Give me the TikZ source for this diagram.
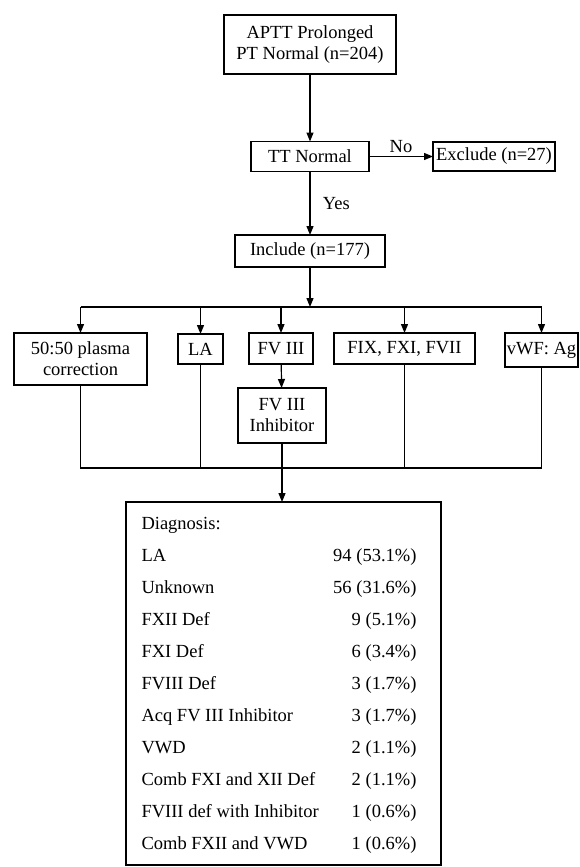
\documentclass[tikz,border=0pt]{standalone}
\usepackage{fontspec}
\setmainfont{Liberation Serif}
\usetikzlibrary{arrows.meta, positioning}

\begin{document}
\begin{tikzpicture}[% styles used in image code
          x = 1pt, y = -1pt,
          > = {Triangle[length=9pt, width=7pt]}, % defined in "arrows.meta
every node/.style = {font=\fontsize{18.5}{21}\selectfont},
 box/.style = {draw, line width=1.2pt, inner sep=0pt, outer sep=0pt,
               align=center},
line/.style = {line width=1.2pt}
                    ]
	\useasboundingbox (0,0) rectangle (580,867);
	% screening steps
	\node[box, minimum width=172pt, minimum height=59pt] (aptt) at (310,44.5) {APTT Prolonged\\PT Normal (n=204)};
	\node[box, minimum width=118pt, minimum height=30pt] (tt)   at (310,156.5) {TT Normal};
	\node[box, minimum width=122pt, minimum height=29pt] (excl) at (494,156.5) {Exclude (n=27)};
	\node[box, minimum width=150pt, minimum height=32pt] (incl) at (310,251) {Include (n=177)};

	\draw[line,->] (aptt) -- (tt);
	\draw[line,->] (tt) -- node[above] {No} (excl);
	\draw[line,->] (tt) -- node[right=9pt] {Yes} (incl);

	% tests
	\node[box, minimum width=133pt, minimum height=52pt] (plasma) at (80.5,359)  {50:50 plasma\\correction};
	\node[box, minimum width=45pt,  minimum height=30pt] (la)     at (200.5,349) {LA};
	\node[box, minimum width=64pt,  minimum height=31pt] (fv)     at (281,348.5) {FV III};
	\node[box, minimum width=141pt, minimum height=31pt] (fix)    at (404.5,348.5) {FIX, FXI, FVII};
	\node[box, minimum width=73pt,  minimum height=34pt] (vwf)    at (541.5,350) {vWF: Ag};
	\node[box, minimum width=88pt,  minimum height=55pt] (inh)    at (282,415.5) {FV III\\Inhibitor};

	\coordinate (split) at (310,307);
	\draw[line,->] (incl) -- (split);
	\draw[line] (plasma.north |- split) -- (vwf.north |- split);
	\foreach \t in {plasma, la, fv, fix, vwf}
		\draw[line,->] (\t.north |- split) -- (\t.north);
	\draw[line,->] (fv) -- (inh);

	% collect into diagnosis
	\coordinate (merge) at (282,468);
	\draw[line] (plasma.south) -- (plasma.south |- merge) -- (vwf.south |- merge) -- (vwf.south);
	\foreach \t in {la, fix}
		\draw[line] (\t.south) -- (\t.south |- merge);

	\node[box, minimum width=315pt, minimum height=363pt, anchor=north west] (diag) at (126,502) {};
	\draw[line,->] (inh.south) -- (inh.south |- diag.north);

	\node[anchor=base west] (head) at (138,529) {Diagnosis:};
	\foreach \what/\num [count=\i] in {LA/94 (53.1\%), Unknown/56 (31.6\%),
			FXII Def/9 (5.1\%), FXI Def/6 (3.4\%), FVIII Def/3 (1.7\%),
			Acq FV III Inhibitor/3 (1.7\%), VWD/2 (1.1\%),
			Comb FXI and XII Def/2 (1.1\%), FVIII def with Inhibitor/1 (0.6\%),
			Comb FXII and VWD/1 (0.6\%)}
	{
		\node[anchor=base west] (what\i) at (138,529+32*\i) {\what};
		\node[anchor=base east] (num\i)  at (420,529+32*\i) {\num};
	}
\end{tikzpicture}
\end{document}
